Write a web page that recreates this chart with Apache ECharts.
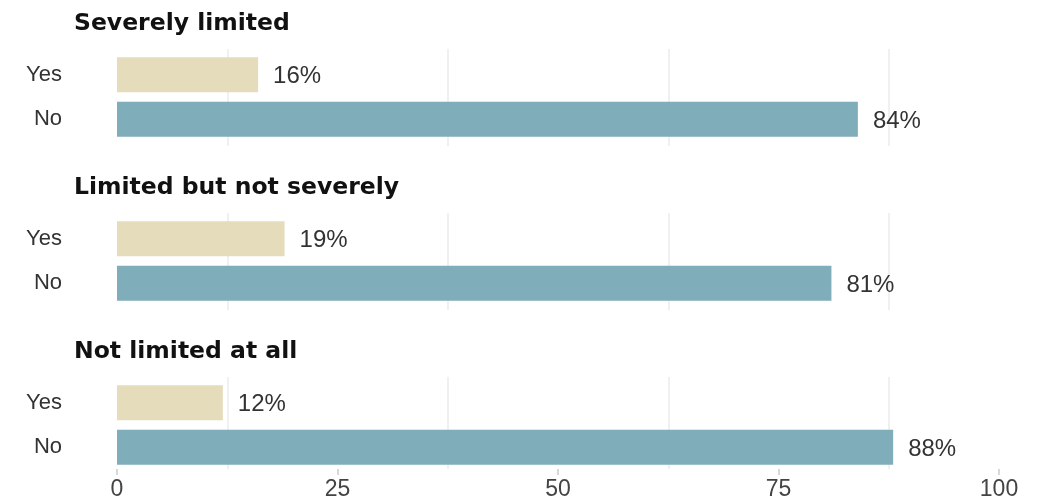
<!DOCTYPE html>
<html>
<head>
<meta charset="utf-8">
<script src="https://cdn.jsdelivr.net/npm/echarts@6/dist/echarts.min.js"></script>
<style>
  html, body { margin: 0; padding: 0; background: #fff; }
  #main { width: 1048px; height: 501px; }
</style>
</head>
<body>
<div id="main"></div>
<script>
var panelTitles = ['Severely limited', 'Limited but not severely', 'Not limited at all'];
var answers = ['Yes', 'No'];
var yesValues = [16, 19, 12];
var noValues = [84, 81, 88];
var axisMin = 0;
var axisMax = 100;
var labelStep = 25;
var gridStep = 12.5;

var myChart = echarts.init(document.getElementById('main'));

var yesColor = '#e4dcba';
var noColor = '#80adba';
var panelGap = 164;

var grids = [], xAxes = [], yAxes = [], series = [], titles = [];

// grids 0-2: light vertical lines, grids 3-5: the bars
for (var i = 0; i < 3; i++) {
    grids.push({ left: 117, right: 49, top: 49 + i * panelGap, height: 97 });
}
for (var i = 0; i < 3; i++) {
    grids.push({ left: 117, right: 49, top: 52.6 + i * panelGap, height: 88.8 });
}

for (var i = 0; i < 3; i++) {
    titles.push({
        text: panelTitles[i],
        left: 69,
        top: 7 + i * panelGap,
        textStyle: { fontFamily: 'DejaVu Sans', fontWeight: 'bold', fontSize: 23.5, color: '#111' }
    });
    xAxes.push({
        gridIndex: i, type: 'value', position: 'top',
        min: axisMin, max: axisMax, interval: gridStep,
        axisLine: { show: false }, axisTick: { show: false }, axisLabel: { show: false },
        splitLine: { show: true, lineStyle: { color: ['rgba(0,0,0,0)', '#ebebeb'], width: 1.5 } }
    });
    yAxes.push({ gridIndex: i, type: 'value', show: false, min: 0, max: 1, splitLine: { show: false } });
}

for (var i = 0; i < 3; i++) {
    xAxes.push({
        gridIndex: 3 + i, type: 'value', show: false,
        min: axisMin, max: axisMax, splitLine: { show: false }
    });
    yAxes.push({
        gridIndex: 3 + i, type: 'category', inverse: true, data: answers,
        axisLine: { show: false }, axisTick: { show: false },
        axisLabel: { margin: 55, padding: [4, 0, 0, 0], fontFamily: 'Liberation Sans', fontSize: 22, color: '#333' }
    });
    series.push({
        type: 'bar',
        xAxisIndex: 3 + i,
        yAxisIndex: 3 + i,
        barWidth: 35,
        data: [
            { value: yesValues[i], itemStyle: { color: yesColor } },
            { value: noValues[i], itemStyle: { color: noColor } }
        ],
        label: {
            show: true, position: 'right', distance: 15, offset: [0, 2],
            formatter: '{c}%',
            fontFamily: 'Liberation Sans', fontSize: 24, color: '#333'
        }
    });
}

// bottom axis with tick labels, on the last panel
xAxes.push({
    gridIndex: 2, type: 'value', position: 'bottom',
    min: axisMin, max: axisMax, interval: labelStep,
    axisLine: { show: false },
    axisTick: { show: true, length: 6, lineStyle: { color: '#cccccc', width: 1.5 } },
    axisLabel: { margin: 9, fontFamily: 'Liberation Sans', fontSize: 23, color: '#444' },
    splitLine: { show: false }
});

var option = {
    animation: false,
    title: titles,
    grid: grids,
    xAxis: xAxes,
    yAxis: yAxes,
    series: series
};

myChart.setOption(option);
</script>
</body>
</html>
